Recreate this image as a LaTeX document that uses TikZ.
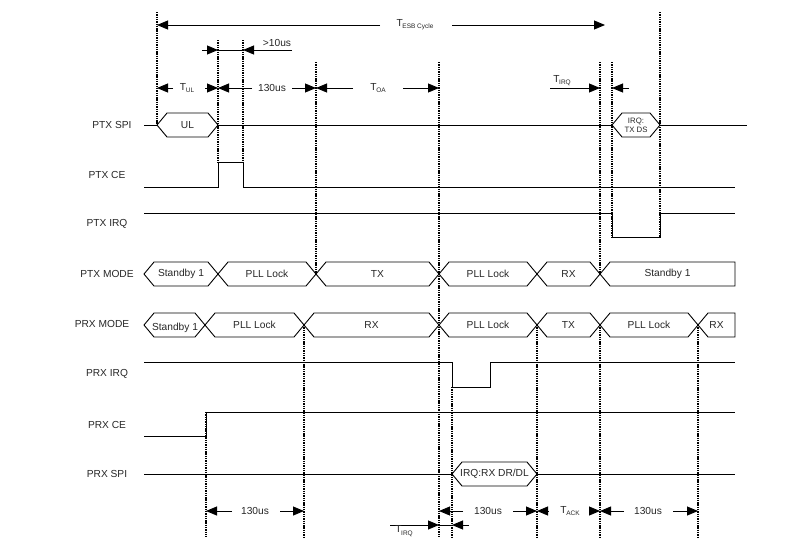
\documentclass[tikz,border=0pt]{standalone}
\usepackage{fontspec}
\setmainfont{Liberation Sans}
\usetikzlibrary{arrows.meta}
\newcommand\Tsb[1]{T\kern-0.3pt\raisebox{-2.2pt}{\fontsize{6.5}{7}\selectfont #1}}
\newcommand\hexseg[5]{%
  \draw[sig] (#1,#3) -- ({#1+10},{#3-12}) -- ({#2-10},{#3-12}) -- (#2,#3) -- ({#2-10},{#3+12}) -- ({#1+10},{#3+12}) -- cycle;
  \node[lbl] (#5) at ({(#1+#2)/2},#3) {#4};}
\newcommand\lastseg[5]{%
  \draw[sig] (#1,#3) -- ({#1+10},{#3-12}) -- (#2,{#3-12}) -- (#2,{#3+12}) -- ({#1+10},{#3+12}) -- cycle;
  \node[lbl] (#5) at ({(#1+#2)/2},#3) {#4};}
\newcommand\dimto[3]{\draw[dim,tip] (#1,#3) -- (#2,#3);}
\begin{document}
\begin{tikzpicture}[x=1pt,y=-1pt,
  sig/.style={line width=0.9pt},
  guide/.style={line width=1.9pt, dash pattern=on 1.4pt off 0.9pt},
  dim/.style={line width=0.9pt},
  tip/.style={-{Triangle[length=11pt,width=9pt]}},
  lbl/.style={font=\fontsize{10.2}{12}\selectfont, inner sep=0pt, text=black!85},
  rowlbl/.style={lbl, anchor=center}]
\useasboundingbox (0,0) rectangle (810,555);

% ---- dotted guide lines ----
\draw[guide] (157,12) -- (157,125);
\draw[guide] (218,40) -- (218,162);
\draw[guide] (243,40) -- (243,162);
\draw[guide] (316,62) -- (316,274);
\draw[guide] (439,62) -- (439,537);
\draw[guide] (600,62) -- (600,274);
\draw[guide] (612,62) -- (612,237);
\draw[guide] (660,12) -- (660,237);
\draw[guide] (206,412) -- (206,537);
\draw[guide] (304,325) -- (304,537);
\draw[guide] (452,387) -- (452,537);
\draw[guide] (537,325) -- (537,537);
\draw[guide] (600,325) -- (600,537);
\draw[guide] (698,325) -- (698,537);

% ---- row labels ----
\node[rowlbl] (lptxspi) at (112,125) {PTX SPI};
\node[rowlbl] (lptxce) at (107,175) {PTX CE};
\node[rowlbl] (lptxirq) at (107,224) {PTX IRQ};
\node[rowlbl] (lptxmode) at (107,274) {PTX MODE};
\node[rowlbl] (lprxmode) at (102,324) {PRX MODE};
\node[rowlbl] (lprxirq) at (107,374) {PRX IRQ};
\node[rowlbl] (lprxce) at (107,425) {PRX CE};
\node[rowlbl] (lprxspi) at (107,474) {PRX SPI};

% ---- PTX SPI ----
\draw[sig] (144,125) -- (157,125);
\hexseg{157}{218}{125}{UL}{ul}
\draw[sig] (218,125) -- (612,125);
\draw[sig] (612,125) -- (622,113) -- (650,113) -- (660,125) -- (650,137) -- (622,137) -- cycle;
\node[lbl, font=\fontsize{7.8}{8.8}\selectfont, align=center] (txds) at (636,125) {IRQ:\\TX DS};
\draw[sig] (660,125) -- (747,125);

% ---- PTX CE ----
\draw[sig] (144,187) -- (218,187) -- (218,162) -- (243,162) -- (243,187) -- (735,187);
% ---- PTX IRQ ----
\draw[sig] (144,213) -- (612,213) -- (612,237) -- (660,237) -- (660,213) -- (735,213);

% ---- PTX MODE ----
\hexseg{144}{218}{274}{Standby 1}{tm1}
\hexseg{218}{316}{274}{PLL Lock}{tm2}
\hexseg{316}{439}{274}{TX}{tm3}
\hexseg{439}{537}{274}{PLL Lock}{tm4}
\hexseg{537}{600}{274}{RX}{tm5}
\lastseg{600}{735}{274}{Standby 1}{tm6}

% ---- PRX MODE ----
\draw[sig] (144,325) -- (154,313) -- (195,313) -- (205,325) -- (195,337) -- (154,337) -- cycle;
\node[lbl] (rm1) at (175,328) {Standby 1};
\hexseg{205}{304}{325}{PLL Lock}{rm2}
\hexseg{304}{439}{325}{RX}{rm3}
\hexseg{439}{537}{325}{PLL Lock}{rm4}
\hexseg{537}{600}{325}{TX}{rm5}
\hexseg{600}{698}{325}{PLL Lock}{rm6}
\lastseg{698}{735}{325}{RX}{rm7}

% ---- PRX IRQ ----
\draw[sig] (144,362) -- (452,362) -- (452,387) -- (490,387) -- (490,362) -- (735,362);
% ---- PRX CE ----
\draw[sig] (144,436) -- (206,436) -- (206,412) -- (735,412);
% ---- PRX SPI ----
\draw[sig] (144,474) -- (452,474);
\hexseg{452}{537}{474}{IRQ:RX DR/DL}{rxdr}
\draw[sig] (537,474) -- (735,474);

% ---- top dimensions ----
\dimto{380}{157}{25}
\dimto{452}{605}{25}
\node[lbl] (tesb) at (415,25) {\Tsb{ESB Cycle}};

\draw[dim] (218,50) -- (243,50);
\dimto{202}{218}{50}
\dimto{292}{243}{50}
\node[lbl] (gt10) at (277,43) {>10us};

\dimto{173}{157}{88}
\dimto{205}{218}{88}
\node[lbl] (tul) at (187,88) {\Tsb{UL}};
\dimto{252}{218}{88}
\dimto{292}{316}{88}
\node[lbl] (d130a) at (272,88) {130us};
\dimto{353}{316}{88}
\dimto{403}{439}{88}
\node[lbl] (toa) at (378,88) {\Tsb{OA}};
\dimto{550}{600}{88}
\dimto{629}{612}{88}
\node[lbl] (tirqa) at (562,81) {\Tsb{IRQ}};

% ---- bottom dimensions ----
\dimto{232}{206}{511}
\dimto{280}{304}{511}
\node[lbl] (d130b) at (255,511) {130us};
\dimto{463}{439}{511}
\dimto{513}{537}{511}
\node[lbl] (d130c) at (488,511) {130us};
\dimto{548}{537}{511}
\dimto{589}{600}{511}
\node[lbl] (tack) at (570,511) {\Tsb{ACK}};
\dimto{624}{600}{511}
\dimto{673}{698}{511}
\node[lbl] (d130d) at (648,511) {130us};

\draw[dim] (439,525) -- (452,525);
\dimto{390}{439}{525}
\dimto{469}{452}{525}
\node[lbl] (tirqb) at (404,531) {\Tsb{IRQ}};
\end{tikzpicture}
\end{document}
